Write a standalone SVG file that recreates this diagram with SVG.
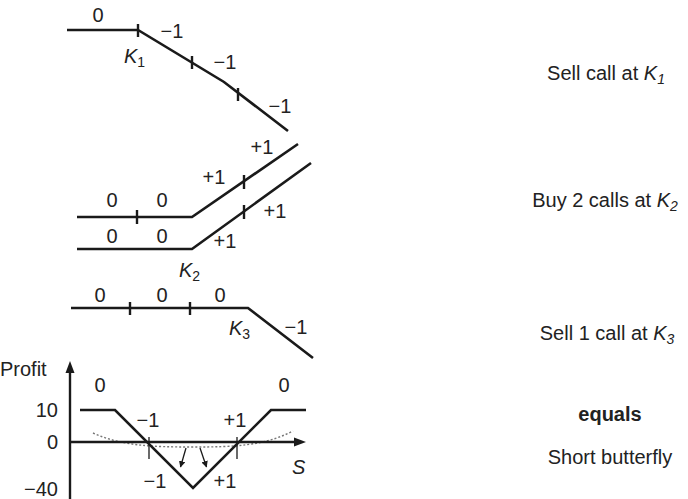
<svg xmlns="http://www.w3.org/2000/svg" width="688" height="499" viewBox="0 0 688 499">
<defs>
<style>
.ln{fill:none;stroke:#1a1a1a;stroke-width:2.6;stroke-linejoin:miter}
.tk{stroke:#1a1a1a;stroke-width:2.4}
.thin{stroke:#1a1a1a;stroke-width:1.3;fill:none}
.dot{fill:none;stroke:#777;stroke-width:1.4;stroke-dasharray:2 2}
text{font-family:"Liberation Sans",Arial,sans-serif;font-size:20px;fill:#222}
.c{text-anchor:middle}
.r{text-anchor:end}
.it{font-style:italic}
.sub{font-size:14px}
</style>
<marker id="ah" viewBox="0 0 10 10" refX="9" refY="5" markerWidth="5" markerHeight="5" orient="auto">
<path d="M0,0 L10,5 L0,10 z" fill="#1a1a1a"/>
</marker>
</defs>
<rect width="688" height="499" fill="#fff"/>

<g id="panel1">
<polyline class="ln" points="67,30 138,30 224,82 288,131"/>
<line class="tk" x1="138" y1="24" x2="138" y2="37"/>
<line class="tk" x1="192" y1="56" x2="192" y2="69"/>
<line class="tk" x1="238" y1="88" x2="238" y2="101"/>
<text class="c" x="98" y="22">0</text>
<text class="c" x="172" y="38">−1</text>
<text x="124" y="63"><tspan class="it">K</tspan><tspan class="sub" dy="4">1</tspan></text>
<text class="c" x="225" y="69">−1</text>
<text class="c" x="280" y="113">−1</text>
</g>

<g id="panel2">
<polyline class="ln" points="77,217 192,217 298,144"/>
<polyline class="ln" points="77,249 192,249 311,163"/>
<line class="tk" x1="137" y1="210" x2="137" y2="224"/>
<line class="tk" x1="244" y1="175" x2="244" y2="189"/>
<line class="tk" x1="244" y1="205" x2="244" y2="219"/>
<text class="c" x="112" y="207">0</text>
<text class="c" x="162" y="207">0</text>
<text class="c" x="112" y="243">0</text>
<text class="c" x="162" y="243">0</text>
<text class="c" x="214" y="184">+1</text>
<text class="c" x="262" y="154">+1</text>
<text class="c" x="275" y="218">+1</text>
<text class="c" x="225" y="248">+1</text>
<text x="179" y="277"><tspan class="it">K</tspan><tspan class="sub" dy="4">2</tspan></text>
</g>

<g id="panel3">
<polyline class="ln" points="71,308 248,308 313,358"/>
<line class="tk" x1="130" y1="302" x2="130" y2="315"/>
<line class="tk" x1="190" y1="302" x2="190" y2="315"/>
<text class="c" x="100" y="302">0</text>
<text class="c" x="162" y="302">0</text>
<text class="c" x="220" y="302">0</text>
<text x="229" y="335"><tspan class="it">K</tspan><tspan class="sub" dy="4">3</tspan></text>
<text class="c" x="296" y="334">−1</text>
</g>

<g id="panel4">
<path class="dot" d="M93,433 C122,446 152,447 193,447 C234,447 264,446 293,431"/>
<line class="tk" x1="70" y1="499" x2="70" y2="370"/>
<polygon points="70,361 65.5,373 74.5,373" fill="#1a1a1a"/>
<line class="tk" x1="70" y1="442" x2="296" y2="442"/>
<polygon points="306,442 294,437.5 294,446.5" fill="#1a1a1a"/>
<line class="thin" x1="149" y1="437" x2="149" y2="459"/>
<line class="thin" x1="237" y1="437" x2="237" y2="459"/>
<polyline class="ln" points="80,410 115,410 193,488 271,410 306,410"/>
<line class="thin" x1="186" y1="448" x2="180.5" y2="467" marker-end="url(#ah)"/>
<line class="thin" x1="200" y1="448" x2="206.5" y2="467" marker-end="url(#ah)"/>
<text x="0" y="376">Profit</text>
<text class="r" x="58" y="417">10</text>
<text class="r" x="58" y="449">0</text>
<text class="r" x="58" y="496">−40</text>
<text class="c" x="100" y="392">0</text>
<text class="c" x="284" y="392">0</text>
<text class="c" x="148" y="427">−1</text>
<text class="c" x="235" y="427">+1</text>
<text class="c" x="155" y="488">−1</text>
<text class="c" x="225" y="488">+1</text>
<text class="it" x="292" y="474">S</text>
</g>

<g id="labels">
<text class="c" x="606" y="80">Sell call at <tspan class="it">K</tspan><tspan class="it sub" dy="4">1</tspan></text>
<text class="c" x="605" y="207">Buy 2 calls at <tspan class="it">K</tspan><tspan class="it sub" dy="4">2</tspan></text>
<text class="c" x="607" y="340">Sell 1 call at <tspan class="it">K</tspan><tspan class="it sub" dy="4">3</tspan></text>
<text class="c" x="610" y="421" font-weight="bold">equals</text>
<text class="c" x="610" y="464">Short butterfly</text>
</g>
</svg>
